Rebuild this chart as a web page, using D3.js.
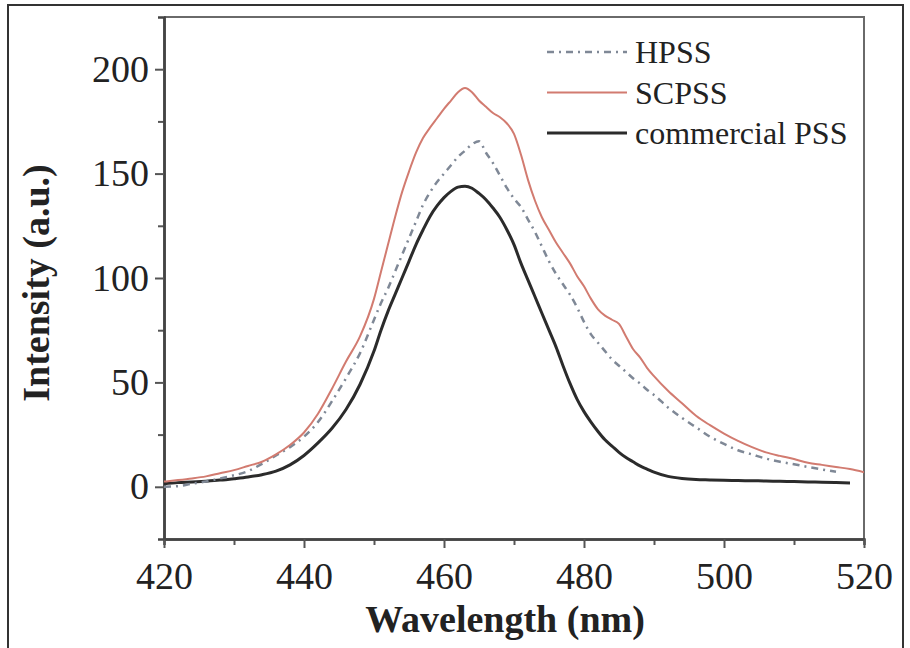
<!DOCTYPE html>
<html>
<head>
<meta charset="utf-8">
<script src="https://d3js.org/d3.v7.min.js"></script>
<style>
  body { margin: 0; background: #fff; }
  svg text { font-family: "Liberation Serif", "Times New Roman", serif; fill: #222; }
</style>
</head>
<body>
<div id="chart"></div>
<script>
// wavelengths (nm): 2 nm steps on the tails, 1 nm steps around the peak
var wavelengths = [420,422,424,426,428,430,432,434,436,438,440,442,444,446,448,
  450,451,452,453,454,455,456,457,458,459,460,461,462,463,464,465,466,467,468,469,
  470,471,472,473,474,475,476,477,478,479,480,481,482,483,484,485,486,487,488,489,490,
  492,494,496,498,500,502,504,506,508,510,512,514,516,518,520];

var hpss = [0,0.3,1.5,2.5,4,5.5,7.5,11,15,19,24,31,41,52,64,
  80,88,95,103,111,119,127,135,141,146,150,154,158,161,164,165.5,160,155,149,143,
  138,134,128,122,115,108,102,97,92,86,79,73,69,65,61,58,55,52,49.5,46.5,44,
  38,33,28.5,24,20.5,17.5,15.5,13.5,12,10.8,9.5,8.3,7.2,null,null];

var scpss = [2.5,3.2,4,5,6.5,8,10,12,15.5,20,26,35,47,60,72,
  90,103,116,129,141,151,160,167,172,176.5,181,185,189,191,189,185,182,179,177,174,
  169,159,147,137,129,123,117,112,107,101,96,90,85,82,80,78,72,66,62,57,53,
  46,40,34,29.5,25.5,22,19,16.5,14.8,13.3,11.5,10.5,9.5,8.5,7];

var commercial = [1.5,2,2.3,2.7,3.2,3.9,4.7,5.8,7.5,10.5,15,21,28,37,49,
  65,75,84,92,100,108,116,123,129.5,134.5,138.5,141.5,143.5,144,143,140.5,137.5,133.5,129,123,
  116,107,99,91,83,75,67,58,49.5,42,36,31,26.5,22.5,19.5,16.5,14,12,10,8.5,7,
  5,4,3.5,3.3,3.1,3,2.9,2.8,2.6,2.5,2.3,2.2,2,1.8,null];

var seriesNames = ["HPSS", "SCPSS", "commercial PSS"];
var xTicks = [420, 440, 460, 480, 500, 520];
var yTicks = [0, 50, 100, 150, 200];

var W = 910, H = 648;
var plotL = 164, plotR = 864, plotT = 17, plotB = 539;

var svg = d3.select("#chart").append("svg")
  .attr("width", W).attr("height", H);

// outer figure border
svg.append("rect")
  .attr("x", 8).attr("y", 5).attr("width", 895).attr("height", 660)
  .attr("fill", "none").attr("stroke", "#333").attr("stroke-width", 2);

var x = d3.scaleLinear().domain([420, 520]).range([plotL, plotR]);
var y = d3.scaleLinear().domain([-25, 225]).range([plotB, plotT]);

// frame top / right
svg.append("path")
  .attr("d", "M" + plotL + "," + plotT + "H" + plotR + "V" + plotB)
  .attr("fill", "none").attr("stroke", "#6a6a6a").attr("stroke-width", 2);

// minor ticks
var xAxisMinor = d3.axisBottom(x).tickValues(d3.range(430, 520, 20)).tickSize(6).tickFormat("");
var yAxisMinor = d3.axisLeft(y).tickValues(d3.range(25, 225, 50)).tickSize(6).tickFormat("");
svg.append("g").attr("transform", "translate(0," + plotB + ")").call(xAxisMinor);
svg.append("g").attr("transform", "translate(" + plotL + ",0)").call(yAxisMinor);

var xAxis = d3.axisBottom(x).tickValues(xTicks).tickSize(9).tickPadding(14).tickSizeOuter(0);
var yAxis = d3.axisLeft(y).tickValues(yTicks).tickSize(9).tickPadding(6).tickSizeOuter(0);

svg.append("g").attr("transform", "translate(0," + plotB + ")").call(xAxis);
svg.append("g").attr("transform", "translate(" + plotL + ",0)").call(yAxis);

svg.selectAll(".domain").attr("stroke", "#444").attr("stroke-width", 2.5);
svg.selectAll(".tick line").attr("stroke", "#555").attr("stroke-width", 2);
svg.selectAll(".tick text").attr("font-size", 38).attr("fill", "#222")
  .attr("font-family", "'Liberation Serif', serif");

// axis titles
svg.append("text")
  .attr("x", 505).attr("y", 632)
  .attr("text-anchor", "middle")
  .attr("font-size", 38).attr("font-weight", "bold")
  .text("Wavelength (nm)");

svg.append("text")
  .attr("transform", "translate(49,283) rotate(-90)")
  .attr("text-anchor", "middle")
  .attr("font-size", 38).attr("font-weight", "bold")
  .text("Intensity (a.u.)");

// curves
var styles = [
  {color: "#7f8896", width: 2.5, dash: "7,5,2,5"},
  {color: "#d27b70", width: 2, dash: null},
  {color: "#2b2b2b", width: 3, dash: null}
];
var seriesData = [hpss, scpss, commercial];

svg.append("clipPath").attr("id", "clip")
  .append("rect").attr("x", plotL).attr("y", plotT)
  .attr("width", plotR - plotL).attr("height", plotB - plotT);

var line = d3.line()
  .defined(function(d) { return d[1] != null; })
  .x(function(d) { return x(d[0]); })
  .y(function(d) { return y(d[1]); })
  .curve(d3.curveMonotoneX);

var drawOrder = [2, 0, 1];
drawOrder.forEach(function(i) {
  var pts = wavelengths.map(function(w, k) { return [w, seriesData[i][k]]; });
  svg.append("path")
    .datum(pts)
    .attr("clip-path", "url(#clip)")
    .attr("d", line)
    .attr("fill", "none")
    .attr("stroke", styles[i].color)
    .attr("stroke-width", styles[i].width)
    .attr("stroke-dasharray", styles[i].dash);
});

// legend
var legend = svg.append("g");
seriesNames.forEach(function(name, i) {
  var ly = 52 + i * 40.5;
  legend.append("line")
    .attr("x1", 547).attr("x2", 627).attr("y1", ly).attr("y2", ly)
    .attr("stroke", styles[i].color)
    .attr("stroke-width", styles[i].width)
    .attr("stroke-dasharray", styles[i].dash);
  legend.append("text")
    .attr("x", 635).attr("y", ly + 11)
    .attr("font-size", 32)
    .text(name);
});
</script>
</body>
</html>
